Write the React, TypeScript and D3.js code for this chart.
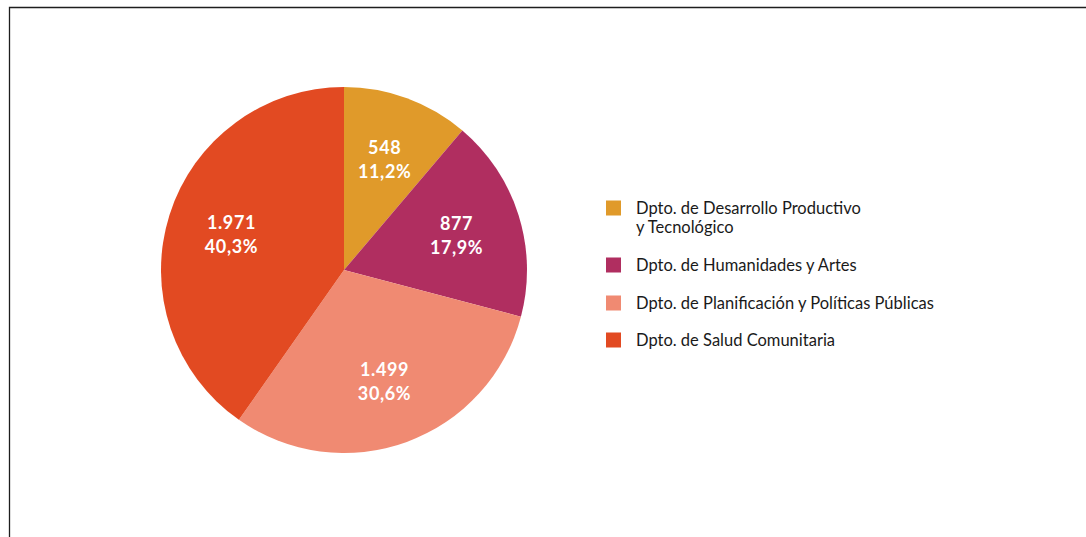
import { useRef, useEffect } from 'react';
import * as d3 from 'd3';

const departments = [
  'Dpto. de Desarrollo Productivo|y Tecnológico',
  'Dpto. de Humanidades y Artes',
  'Dpto. de Planificación y Políticas Públicas',
  'Dpto. de Salud Comunitaria',
];
const counts = [548, 877, 1499, 1971];
const countLabels = ['548', '877', '1.499', '1.971'];
const percentLabels = ['11,2%', '17,9%', '30,6%', '40,3%'];
const colors = ['#E09A2A', '#B02E60', '#F08A72', '#E24A22'];

const W = 1086;
const H = 537;

const App = () => {
  const svgRef = useRef<SVGSVGElement>(null);

  useEffect(() => {
    const svg = d3.select(svgRef.current);
    svg.selectAll('*').remove();

    // frame (only top and left edges visible)
    svg.append('path')
      .attr('d', `M9.5,${H} L9.5,7.5 L${W},7.5`)
      .attr('fill', 'none')
      .attr('stroke', '#1e1e1e')
      .attr('stroke-width', 1.3);

    const cx = 344;
    const cy = 270;
    const radius = 183;

    const pie = d3.pie<number>().sort(null).value(d => d);
    const arcs = pie(counts);
    const arc = d3.arc<d3.PieArcDatum<number>>().innerRadius(0).outerRadius(radius);
    const labelArc = d3.arc<d3.PieArcDatum<number>>().innerRadius(118 * 2).outerRadius(0);

    const g = svg.append('g').attr('transform', `translate(${cx},${cy})`);

    g.selectAll('path.slice')
      .data(arcs)
      .join('path')
      .attr('class', 'slice')
      .attr('d', arc)
      .attr('fill', (_, i) => colors[i]);

    const labels = g.selectAll('g.lbl')
      .data(arcs)
      .join('g')
      .attr('class', 'lbl')
      .attr('transform', d => `translate(${labelArc.centroid(d)})`);

    labels.append('text')
      .attr('y', -5)
      .attr('text-anchor', 'middle')
      .attr('fill', '#fff')
      .attr('font-family', 'Lato, sans-serif')
      .attr('font-weight', 700)
      .attr('font-size', 18)
      .attr('letter-spacing', 0.6)
      .text((_, i) => countLabels[i]);

    labels.append('text')
      .attr('y', 19)
      .attr('text-anchor', 'middle')
      .attr('fill', '#fff')
      .attr('font-family', 'Lato, sans-serif')
      .attr('font-weight', 700)
      .attr('font-size', 18)
      .attr('letter-spacing', 0.6)
      .text((_, i) => percentLabels[i]);

    // legend
    const legendY = [208, 265, 303, 340];
    const legend = svg.append('g');
    departments.forEach((name, i) => {
      const row = legend.append('g').attr('transform', `translate(606,${legendY[i]})`);
      row.append('rect')
        .attr('x', 0)
        .attr('y', -7.5)
        .attr('width', 15)
        .attr('height', 15)
        .attr('fill', colors[i]);
      name.split('|').forEach((line, j) => {
        row.append('text')
          .attr('x', 30)
          .attr('y', j === 0 ? 6 : 25)
          .attr('fill', '#1a1a1a')
          .attr('font-family', 'Lato, sans-serif')
          .attr('font-size', 16.5)
          .text(line);
      });
    });
  }, []);

  return (
    <div style={{ position: 'absolute', left: 0, top: 0 }}>
      <svg ref={svgRef} width={W} height={H} style={{ display: 'block' }}></svg>
    </div>
  );
};

export default App;
